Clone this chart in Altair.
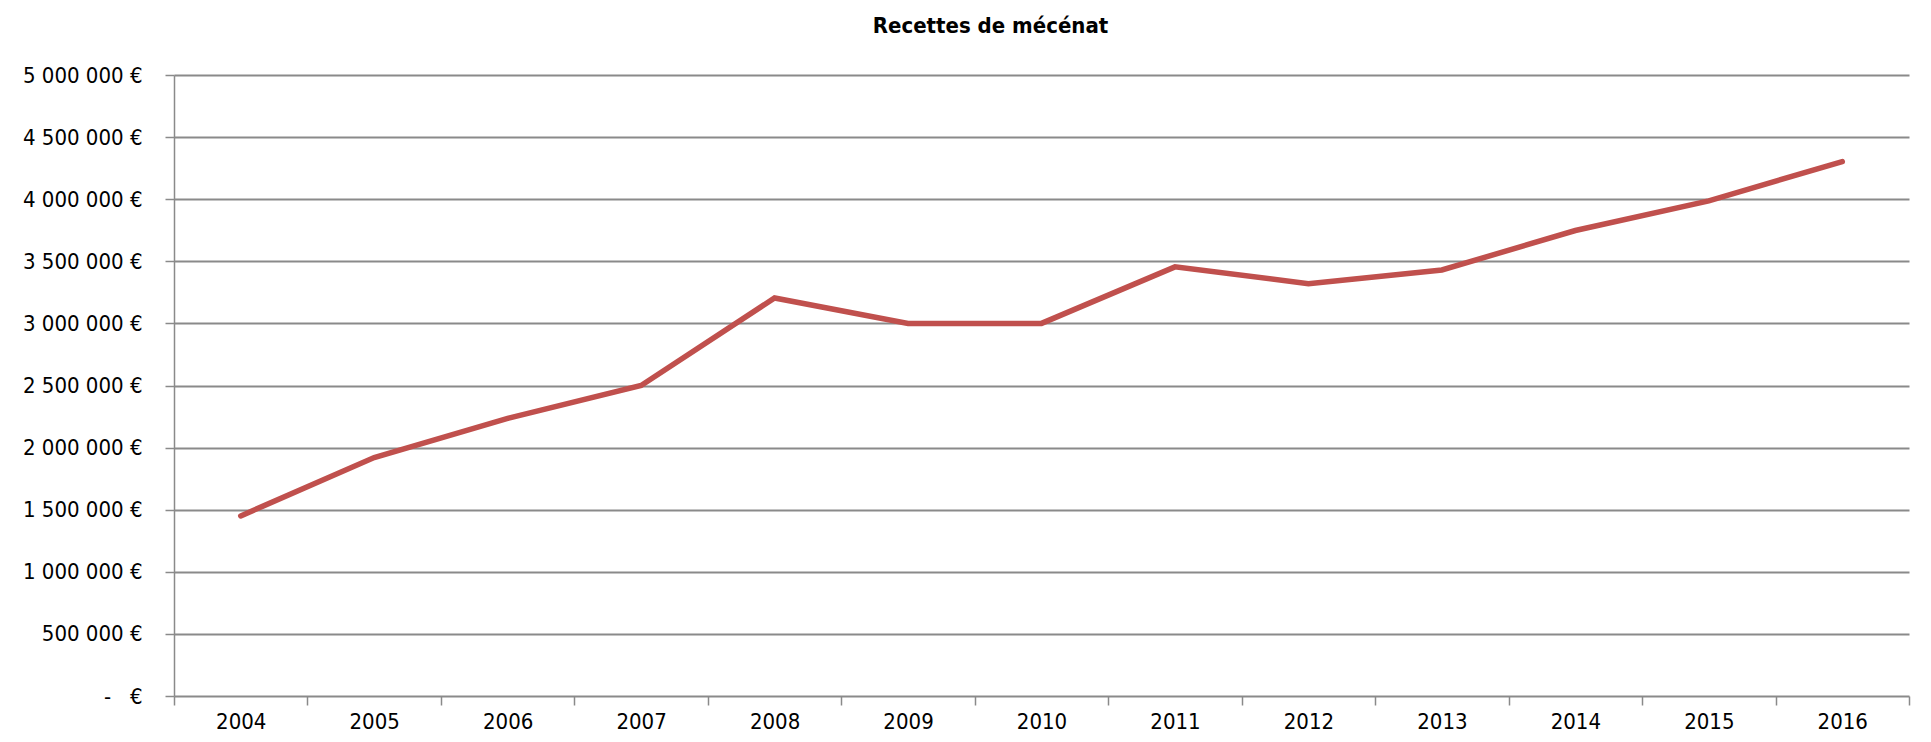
import altair as alt
import pandas as pd

years = ["2004", "2005", "2006", "2007", "2008", "2009", "2010",
         "2011", "2012", "2013", "2014", "2015", "2016"]
recettes = [1450000, 1920000, 2235000, 2500000, 3205000, 3000000, 3000000,
            3455000, 3320000, 3430000, 3748000, 3987000, 4303000]

df = pd.DataFrame({"annee": years, "recettes": recettes})

FONT = "Liberation Sans Narrow, DejaVu Sans Condensed, sans-serif"
GRID = "#8a8a8a"

y_label_expr = (
    "datum.value == 0 ? '-\u00a0\u00a0\u00a0€' : "
    "replace(format(datum.value, ','), regexp(',', 'g'), '\u00a0') + '\u00a0€'"
)

chart = alt.Chart(df).mark_line(color="#C0504D", strokeWidth=5.5, strokeCap="round").encode(
    x=alt.X("annee:N", sort=years, title=None,
            scale=alt.Scale(paddingInner=0, paddingOuter=0),
            axis=alt.Axis(labelAngle=0, tickBand="extent", tickSize=9, tickColor=GRID,
                          tickWidth=1.5, domain=False, grid=False,
                          labelFont=FONT, labelFontSize=22, labelColor="#000000",
                          labelPadding=6)),
    y=alt.Y("recettes:Q", title=None,
            scale=alt.Scale(domain=[0, 5000000], nice=False),
            axis=alt.Axis(values=list(range(0, 5000001, 500000)),
                          labelExpr=y_label_expr, tickSize=9, tickColor=GRID, tickWidth=1.5,
                          domain=True, domainColor=GRID, domainWidth=1.5,
                          grid=True, gridColor=GRID, gridWidth=2,
                          labelFont=FONT, labelFontSize=22, labelColor="#000000",
                          labelPadding=23)),
).properties(
    width=1735,
    height=621,
    autosize=alt.AutoSizeParams(type="none"),
    padding={"left": 166, "top": 67, "right": 14, "bottom": 38},
    title=alt.TitleParams("Recettes de mécénat", font=FONT, fontSize=22, fontWeight="bold",
                          color="#000000", anchor="middle", dx=-51, offset=26),
).configure_view(stroke=None)

chart.save("out.html", embed_options={"renderer": "svg", "actions": False})
